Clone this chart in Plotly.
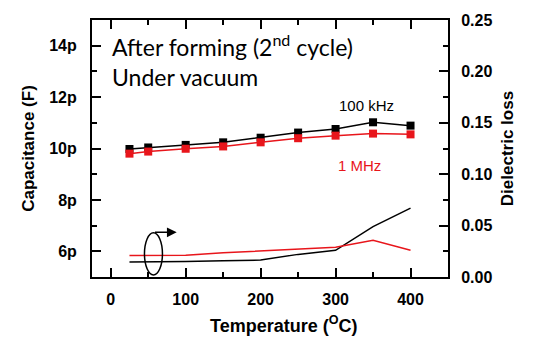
import plotly.graph_objects as go

temperature = [25, 50, 100, 150, 200, 250, 300, 350, 400]
cap_100khz = [9.98, 10.04, 10.14, 10.24, 10.42, 10.62, 10.76, 11.02, 10.89]
cap_1mhz = [9.80, 9.88, 9.99, 10.08, 10.24, 10.40, 10.50, 10.58, 10.55]
loss_100khz = [0.0147, 0.0147, 0.0150, 0.0158, 0.0165, 0.0220, 0.0260, 0.0490, 0.0670]
loss_1mhz = [0.0210, 0.0210, 0.0212, 0.0235, 0.0255, 0.0275, 0.0290, 0.0358, 0.0260]
cap_ticks = [6, 8, 10, 12, 14]
cap_ticktext = ["6p", "8p", "10p", "12p", "14p"]
loss_ticks = [0, 0.05, 0.10, 0.15, 0.20, 0.25]
temp_ticks = [0, 100, 200, 300, 400]

BLACK = "#000000"
RED = "#e8151b"
FAM = "Liberation Sans"
tick_font = dict(family=FAM, size=16, color="black", weight="bold")
title_font = dict(family=FAM, size=17, color="black", weight="bold")

fig = go.Figure()
fig.add_trace(go.Scatter(x=temperature, y=cap_100khz, mode="lines+markers",
                         line=dict(color=BLACK, width=1.5),
                         marker=dict(symbol="square", size=8, color=BLACK),
                         showlegend=False, yaxis="y"))
fig.add_trace(go.Scatter(x=temperature, y=cap_1mhz, mode="lines+markers",
                         line=dict(color=RED, width=1.5),
                         marker=dict(symbol="square", size=8, color=RED),
                         showlegend=False, yaxis="y"))
fig.add_trace(go.Scatter(x=temperature, y=loss_100khz, mode="lines",
                         line=dict(color=BLACK, width=1.5),
                         showlegend=False, yaxis="y2"))
fig.add_trace(go.Scatter(x=temperature, y=loss_1mhz, mode="lines",
                         line=dict(color=RED, width=1.5),
                         showlegend=False, yaxis="y2"))

axis_common = dict(showline=True, linecolor="black", linewidth=2, showgrid=False,
                   zeroline=False, ticks="inside", ticklen=9, tickwidth=1.5,
                   tickcolor="black", tickfont=tick_font)
minor_common = dict(ticks="inside", ticklen=5, tickwidth=1.5, tickcolor="black")

fig.update_layout(
    width=538, height=343,
    margin=dict(l=92, r=90, t=17, b=66),
    paper_bgcolor="white", plot_bgcolor="white",
    xaxis=dict(**axis_common, range=[-25, 450], tickvals=temp_ticks,
               mirror="ticks",
               minor=dict(tickvals=[50, 150, 250, 350], **minor_common),
               ticklabelstandoff=7),
    yaxis=dict(**axis_common, range=[5, 15], tickvals=cap_ticks, ticktext=cap_ticktext,
               minor=dict(tickvals=[5, 7, 9, 11, 13], **minor_common),
               ticklabelstandoff=10,
               title=dict(text="Capacitance (F)", font=title_font, standoff=10)),
    yaxis2=dict(**axis_common, range=[0, 0.25], overlaying="y", side="right",
                tickvals=loss_ticks, tickformat=".2f",
                minor=dict(tickvals=[0.025, 0.075, 0.125, 0.175, 0.225], **minor_common),
                ticklabelstandoff=8,
                title=dict(text="Dielectric loss", font=title_font, standoff=10)),
)

fig.add_annotation(text="Temperature (<sup>O</sup>C)", xref="paper", yref="paper",
                   x=0.539, y=-0.185, xanchor="center", yanchor="middle", showarrow=False,
                   font=dict(family=FAM, size=18, color="black", weight="bold"))
fig.add_annotation(text="After forming (2<sup>nd</sup> cycle)<br>Under vacuum",
                   xref="paper", yref="paper", x=0.05, y=0.97, xanchor="left", yanchor="top",
                   showarrow=False, align="left",
                   font=dict(family="Lato", size=23, color="black"))
fig.add_annotation(text="100 kHz", xref="x", yref="y", x=341, y=11.67, showarrow=False,
                   font=dict(family=FAM, size=15, color=BLACK))
fig.add_annotation(text="1 MHz", xref="x", yref="y", x=332, y=9.33, showarrow=False,
                   font=dict(family=FAM, size=15, color=RED))

fig.add_shape(type="circle", xref="x", yref="y2", x0=45, x1=69, y0=0.002, y1=0.043,
              line=dict(color="black", width=1.5))
fig.add_annotation(xref="x", yref="y2", axref="x", ayref="y2", x=88, y=0.0435,
                   ax=57, ay=0.0435, text="", showarrow=True, arrowhead=2,
                   arrowsize=1.3, arrowwidth=1.5, arrowcolor="black")

fig.write_html("out.html")
